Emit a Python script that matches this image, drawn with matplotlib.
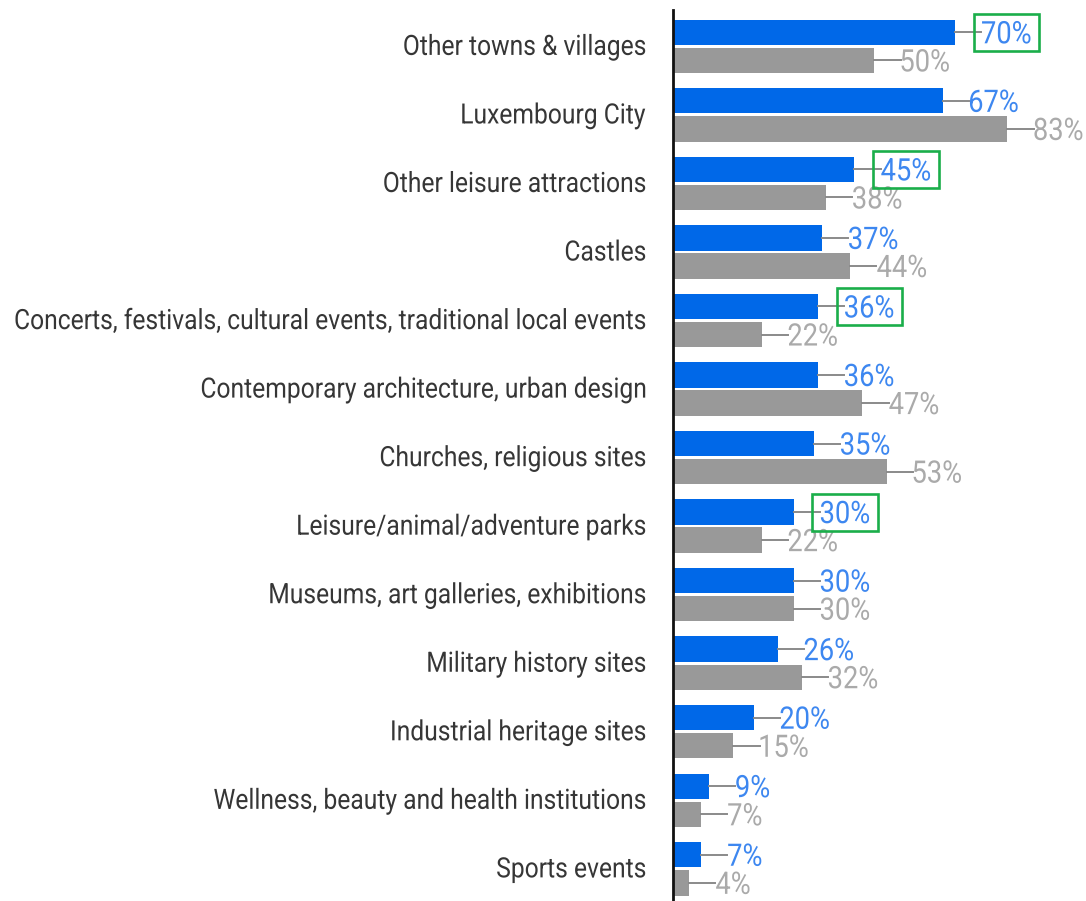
import matplotlib.pyplot as plt
import matplotlib.transforms as mtransforms
from matplotlib.font_manager import FontProperties
from matplotlib.patches import PathPatch, Rectangle
from matplotlib.textpath import TextPath

categories = [
    'Other towns & villages',
    'Luxembourg City',
    'Other leisure attractions',
    'Castles',
    'Concerts, festivals, cultural events, traditional local events',
    'Contemporary architecture, urban design',
    'Churches, religious sites',
    'Leisure/animal/adventure parks',
    'Museums, art galleries, exhibitions',
    'Military history sites',
    'Industrial heritage sites',
    'Wellness, beauty and health institutions',
    'Sports events',
]
blue_vals = [70, 67, 45, 37, 36, 36, 35, 30, 30, 26, 20, 9, 7]
gray_vals = [50, 83, 38, 44, 22, 47, 53, 22, 30, 32, 15, 7, 4]
boxed = [0, 2, 4, 7]

BLUE = '#0068e8'
GRAY = '#999999'
BLUE_TXT = '#3d87f0'
GRAY_TXT = '#aaaaaa'
LEADER = '#8a8a8a'
GREEN = '#1aae4a'

FP = FontProperties(family='Roboto')


def narrow_text(ax, x, y, s, size, color, ha='left', squeeze=0.87, box=None):
    """Draw s as a horizontally squeezed text path anchored at data (x, y),
    vertically centred on the cap height. Sizes are in pixels."""
    tp = TextPath((0, 0), s, size=size, prop=FP)
    ext = tp.get_extents()
    cap = TextPath((0, 0), 'H', size=size, prop=FP).get_extents().y1
    ink_w = (ext.x1 - ext.x0) * squeeze
    dx = -ext.x0 * squeeze if ha == 'left' else -ext.x1 * squeeze
    place = mtransforms.ScaledTranslation(x, y, ax.transData)
    tr = mtransforms.Affine2D().scale(squeeze, 1).translate(dx, -cap / 2) + place
    ax.add_artist(PathPatch(tp, transform=tr, fc=color, ec='none',
                            lw=0, clip_on=False, zorder=3))
    if box is not None:
        padx, boxh = box
        x0 = 0 if ha == 'left' else -ink_w
        ax.add_artist(Rectangle((x0 - padx, -boxh / 2), ink_w + 2 * padx, boxh,
                                transform=place, fc='none', ec=GREEN, lw=1.9,
                                clip_on=False, zorder=4))


fig = plt.figure(figsize=(10.86, 9.01), dpi=100)
ax = fig.add_axes([673 / 1086, 0, 1 - 673 / 1086, 1 - 10 / 901])
ax.set_xlim(0, 102.5)
ax.set_ylim(12.47, -0.53)

off = 0.205
h = 0.37
ys = list(range(len(categories)))
ax.barh([y - off for y in ys], blue_vals, height=h, color=BLUE)
ax.barh([y + off for y in ys], gray_vals, height=h, color=GRAY)

gap = 6.7
for i, (b, g) in enumerate(zip(blue_vals, gray_vals)):
    for v, y, c in ((b, i - off, BLUE_TXT), (g, i + off, GRAY_TXT)):
        ax.plot([v, v + gap - 0.2], [y, y], color=LEADER, lw=1.4, zorder=1)
        box = (8.5, 37) if (c == BLUE_TXT and i in boxed) else None
        narrow_text(ax, v + gap, y, f'{v}%', 31, c, squeeze=0.88, box=box)
    narrow_text(ax, -6.9, i - 0.02, categories[i], 28, '#363636', ha='right',
                squeeze=0.88)

ax.set_xticks([])
ax.set_yticks([])
for s in ('top', 'right', 'bottom'):
    ax.spines[s].set_visible(False)
ax.spines['left'].set_linewidth(2)
ax.spines['left'].set_color('#111111')
ax.patch.set_alpha(0)

fig.savefig('out.png', dpi=100)
